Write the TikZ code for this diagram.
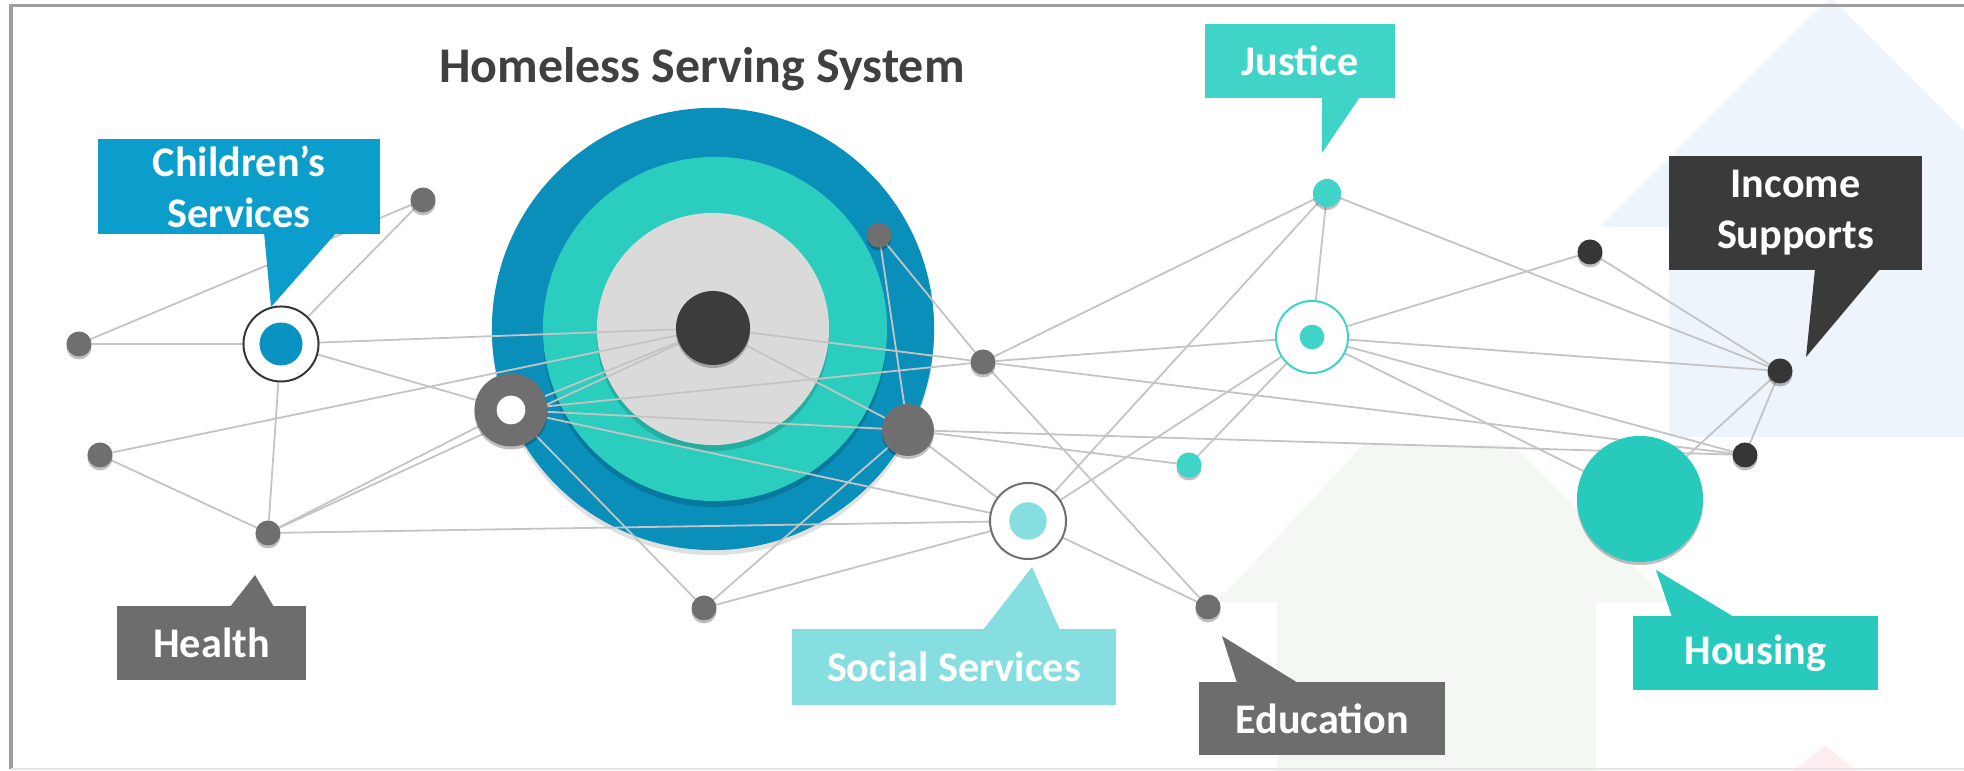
\documentclass[tikz,border=0pt]{standalone}
\usepackage{fontspec}
\setmainfont{Carlito}
\usetikzlibrary{shadows}

\definecolor{ringblue}{HTML}{0A8FBA}
\definecolor{ringteal}{HTML}{2BCDBF}
\definecolor{disc}{HTML}{DADADA}
\definecolor{hubdark}{HTML}{3C3C3C}
\definecolor{dotgray}{HTML}{6F6F6F}
\definecolor{dotdark}{HTML}{363636}
\definecolor{csbox}{HTML}{0B9DCB}
\definecolor{csblue}{HTML}{0A93C2}
\definecolor{boxgray}{HTML}{6D6D6D}
\definecolor{boxdark}{HTML}{3A3A3A}
\definecolor{socteal}{HTML}{86DEE1}
\definecolor{jteal}{HTML}{40D3C8}
\definecolor{houteal}{HTML}{28CABE}
\definecolor{titlegray}{HTML}{404040}
\definecolor{linkgray}{HTML}{C4C4C4}
\definecolor{paleblue}{HTML}{EEF4FB}
\definecolor{palegreen}{HTML}{F3F8F2}
\definecolor{palepink}{HTML}{FDEFEF}

\newcommand\lblfont{\fontsize{12}{14.5}\selectfont\bfseries}

\pgfdeclarelayer{bg}
\pgfdeclarelayer{edges}
\pgfsetlayers{bg,edges,main}

\tikzset{
  dot/.style={circle, inner sep=0pt, outer sep=0pt, minimum size=0.25cm, fill=dotgray,
    drop shadow={shadow xshift=0cm, shadow yshift=-0.03cm, opacity=.25, fill=black}},
  ringnode/.style={circle, inner sep=0pt, outer sep=0pt, fill=white, line width=0.02cm},
  callout/.style={inner sep=0pt, text=white, font=\lblfont, align=center},
  link/.style={draw=linkgray, line width=0.018cm}
}

\begin{document}
\begin{tikzpicture}[x=0.01cm, y=-0.01cm]
\useasboundingbox (0,0) rectangle (1964,771);

\begin{pgfonlayer}{bg}
\begin{scope}
\clip (0,0) rectangle (1964,771);
\fill[paleblue] (1600,227) -- (1830,-3) -- (2060,227) -- (1991,227) -- (1991,437) -- (1669,437) -- (1669,227) -- cycle;
\fill[palegreen] (1217,602) -- (1363,445) -- (1513,445) -- (1669,602) -- (1596,602) -- (1596,780) -- (1277,780) -- (1277,602) -- cycle;
\fill[palepink] (1770,790) -- (1825,745) -- (1880,790) -- cycle;
\end{scope}
\draw[black!38, line width=0.03cm] (1990,6) -- (11,6) -- (11,769);
\draw[black!10, line width=0.02cm] (11,769) -- (1990,769);

\fill[black, opacity=.12] (713,334) circle (2.21cm);
\fill[ringblue] (713,329) circle (2.21cm);
\fill[black, opacity=.15] (715,335) circle (1.72cm);
\fill[ringteal] (715,329) circle (1.72cm);
\fill[black, opacity=.15] (713,335) circle (1.16cm);
\fill[disc] (713,329) circle (1.16cm);
\end{pgfonlayer}

\node[font=\fontsize{14.2}{17}\selectfont\bfseries, text=titlegray] (title) at (702,69) {Homeless Serving System};

\node[dot] (p1) at (423,200) {};
\node[dot] (p2) at (79,344) {};
\node[dot] (p3) at (100,455) {};
\node[dot] (hlt) at (268,533) {};
\node[ringnode, draw=dotdark, minimum size=0.75cm] (chs) at (281,344) {};
\fill[csblue] (chs.center) circle (0.215cm);
\node[dot, minimum size=0.73cm] (grg) at (511,410) {};
\fill[white] (grg.center) circle (0.143cm);
\node[dot, fill=hubdark, minimum size=0.74cm] (hub) at (713,328) {};
\node[dot] (p4) at (879,235) {};
\node[dot, minimum size=0.52cm] (big) at (908,430) {};
\node[dot] (p5) at (983,362) {};
\node[dot] (p6) at (704,608) {};
\node[ringnode, draw=dotgray, minimum size=0.76cm] (soc) at (1028,521) {};
\fill[socteal] (soc.center) circle (0.187cm);
\node[dot, fill=jteal] (tdot) at (1189,465) {};
\node[dot] (edu) at (1208,607) {};
\node[dot, fill=jteal, minimum size=0.28cm] (jus) at (1327,193) {};
\node[ringnode, draw=jteal, minimum size=0.72cm] (jri) at (1312,337) {};
\fill[jteal] (jri.center) circle (0.123cm);
\node[dot, fill=dotdark] (p7) at (1590,252) {};
\node[dot, fill=dotdark] (inc) at (1780,371) {};
\node[dot, fill=dotdark] (p8) at (1745,455) {};
\node[dot, fill=houteal, minimum size=1.26cm] (hou) at (1640,499) {};

\begin{pgfonlayer}{edges}
\foreach \a/\b in {p2/chs, p2/p1, chs/p1, chs/hub, chs/grg, chs/hlt, p3/hub, p3/hlt,
    hlt/grg, hlt/hub, hlt/soc, grg/hub, grg/p5, grg/big, grg/p6, grg/soc, hub/p5, hub/big,
    p4/big, p4/p5, big/p6, big/soc, big/tdot, big/p8, p6/soc, p5/jus, p5/jri, p5/edu, p5/p8,
    soc/jus, soc/jri, soc/edu, tdot/jri, jus/jri, jus/inc, jri/p7, jri/inc, jri/p8, jri/hou,
    p7/inc, inc/p8, hou/inc}
  \draw[link] (\a) -- (\b);
\end{pgfonlayer}

\node[callout, fill=csbox, minimum width=2.82cm, minimum height=0.95cm] (lchs) at (239,186.5) {Children’s\\Services};
\fill[csbox] (264,232) -- (337,232) -- (271,307) -- cycle;

\node[callout, fill=boxgray, minimum width=1.89cm, minimum height=0.74cm] (lhlt) at (211.5,643) {Health};
\fill[boxgray] (230,607) -- (255,575) -- (274,607) -- cycle;

\node[callout, fill=socteal, minimum width=3.24cm, minimum height=0.76cm] (lsoc) at (954,667) {Social Services};
\fill[socteal] (983,630) -- (1032,567) -- (1060,630) -- cycle;

\node[callout, fill=boxgray, minimum width=2.46cm, minimum height=0.73cm] (ledu) at (1322,718.5) {Education};
\fill[boxgray] (1237,683) -- (1222,636) -- (1298,683) -- cycle;

\node[callout, fill=houteal, minimum width=2.45cm, minimum height=0.74cm] (lhou) at (1755.5,653) {Housing};
\fill[houteal] (1672,617) -- (1656,570) -- (1734,617) -- cycle;

\node[callout, fill=jteal, minimum width=1.90cm, minimum height=0.74cm] (ljus) at (1300,61) {Justice};
\fill[jteal] (1322,97) -- (1360,97) -- (1322,153) -- cycle;

\node[callout, fill=boxdark, minimum width=2.53cm, minimum height=1.14cm] (linc) at (1795.5,213) {Income\\Supports};
\fill[boxdark] (1815,269) -- (1880,269) -- (1806,357) -- cycle;
\end{tikzpicture}
\end{document}
